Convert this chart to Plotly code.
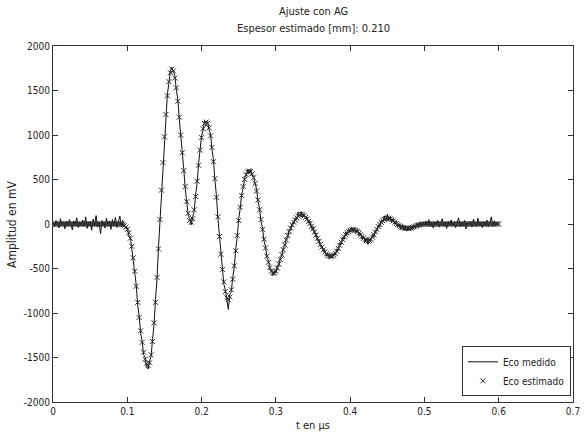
import plotly.graph_objects as go

# Sampling step of the traces (µs)
paso_us = 0.002

# Estimated echo (mV), one value every 0.002 µs from 0 to 0.600 µs (10 per row)
eco_estimado = [
    0, 0, 0, 0, 0, 0, 0, 0, 0, 0,                                   # 0.00
    0, 0, 0, 0, 0, 0, 0, 0, 0, 0,                                   # 0.02
    0, 0, 0, 0, 0, 0, 0, 0, 0, 0,                                   # 0.04
    0, 0, 0, 0, 0, 0, 0, 0, 0, 0,                                   # 0.06
    0, 0, 0, 0, 0, 0, -5, -10, -20, -35,                            # 0.08
    -60, -100, -160, -250, -380, -530, -700, -880, -1050, -1200,    # 0.10
    -1330, -1440, -1520, -1570, -1590, -1560, -1470, -1320, -1110, -880,  # 0.12
    -600, -280, 50, 380, 690, 980, 1230, 1440, 1600, 1700,          # 0.14
    1740, 1720, 1640, 1530, 1380, 1200, 1000, 800, 600, 420,        # 0.16
    250, 120, 40, 20, 60, 160, 310, 480, 660, 830,                  # 0.18
    970, 1070, 1130, 1145, 1130, 1080, 990, 860, 700, 510,          # 0.20
    300, 80, -140, -340, -510, -650, -760, -830, -850, -820,        # 0.22
    -740, -620, -470, -300, -130, 40, 190, 320, 420, 500,           # 0.24
    555, 585, 595, 590, 565, 520, 455, 370, 270, 160,               # 0.26
    50, -60, -170, -270, -360, -430, -490, -530, -550, -550,        # 0.28
    -530, -495, -450, -400, -345, -290, -235, -180, -130, -85,      # 0.30
    -45, -10, 20, 45, 70, 90, 105, 110, 105, 92,                    # 0.32
    75, 55, 30, 5, -25, -55, -90, -125, -160, -195,                 # 0.34
    -230, -260, -290, -315, -335, -350, -358, -362, -360, -350,     # 0.36
    -330, -305, -275, -240, -205, -175, -145, -120, -100, -85,      # 0.38
    -72, -65, -62, -65, -72, -85, -100, -120, -140, -160,           # 0.40
    -175, -186, -190, -185, -170, -148, -120, -90, -60, -30,        # 0.42
    -5, 18, 38, 52, 62, 66, 64, 57, 47, 34,                         # 0.44
    20, 6, -7, -19, -29, -37, -43, -47, -49, -50,                   # 0.46
    -48, -44, -38, -31, -24, -17, -11, -6, -3, -1,                  # 0.48
    0, 0, 0, 0, 0, 0, 0, 0, 0, 0,                                   # 0.50
    0, 0, 0, 0, 0, 0, 0, 0, 0, 0,                                   # 0.52
    0, 0, 0, 0, 0, 0, 0, 0, 0, 0,                                   # 0.54
    0, 0, 0, 0, 0, 0, 0, 0, 0, 0,                                   # 0.56
    0, 0, 0, 0, 0, 0, 0, 0, 0, 0,                                   # 0.58
    0,                                                              # 0.60
]

# Measured echo (mV), same time grid, noisy
eco_medido = [
    15, -30, 40, 5, -45, 60, -10, 25, -55, 30,                      # 0.00
    -20, 50, 10, -65, 35, -5, 70, -40, 20, -15,                     # 0.02
    45, -25, 80, -50, 15, 30, -70, 55, -10, 95,                     # 0.04
    -35, 20, -110, 40, 10, -45, 65, -20, 35, -60,                   # 0.06
    50, -15, 75, -40, 25, 90, -30, 40, -5, -50,                     # 0.08
    -40, -130, -140, -280, -360, -560, -680, -910, -1030, -1230,    # 0.10
    -1310, -1470, -1500, -1600, -1630, -1540, -1490, -1300, -1130, -850,  # 0.12
    -620, -260, 30, 400, 670, 1000, 1210, 1460, 1580, 1720,         # 0.14
    1760, 1700, 1670, 1510, 1400, 1180, 1020, 780, 620, 400,        # 0.16
    270, 100, 60, -10, 80, 140, 330, 460, 680, 810,                 # 0.18
    990, 1050, 1160, 1130, 1150, 1060, 1010, 840, 720, 490,         # 0.20
    320, 60, -120, -360, -490, -680, -740, -880, -960, -790,        # 0.22
    -760, -600, -490, -280, -150, 60, 170, 340, 400, 520,           # 0.24
    540, 610, 580, 620, 550, 530, 440, 390, 250, 180,               # 0.26
    30, -40, -190, -250, -380, -410, -510, -520, -580, -530,        # 0.28
    -550, -470, -470, -380, -360, -270, -250, -160, -150, -60,      # 0.30
    -70, 10, 0, 70, 50, 130, 90, 140, 80, 110,                      # 0.32
    60, 80, 10, 30, -50, -30, -110, -100, -190, -170,               # 0.34
    -250, -240, -310, -290, -360, -330, -390, -340, -380, -330,     # 0.36
    -350, -280, -300, -210, -230, -150, -170, -90, -120, -60,       # 0.38
    -90, -40, -80, -45, -100, -60, -130, -100, -170, -140,          # 0.40
    -200, -160, -230, -170, -190, -120, -150, -70, -80, -10,        # 0.42
    -30, 40, 20, 90, 40, 110, 50, 80, 20, 60,                       # 0.44
    0, 30, -30, 0, -60, -10, -70, -20, -80, -30,                    # 0.46
    -70, -20, -60, -10, -50, 10, -40, 20, -30, 15,                  # 0.48
    -20, 35, -10, 50, -30, 15, -45, 25, -5, 40,                     # 0.50
    -35, 10, 60, -25, 20, -50, 30, -15, 45, -20,                    # 0.52
    15, -40, 25, 70, -30, 5, -20, 40, -55, 20,                      # 0.54
    -10, 30, -35, 55, 0, -25, 65, -15, 20, -40,                     # 0.56
    25, -20, 45, -30, 10, 80, -25, 35, -10, 20,                     # 0.58
    0,                                                              # 0.60
]

t_us = [round(i * paso_us, 3) for i in range(len(eco_medido))]

x_ticks = [0, 0.1, 0.2, 0.3, 0.4, 0.5, 0.6, 0.7]
x_labels = ["0", "0.1", "0.2", "0.3", "0.4", "0.5", "0.6", "0.7"]
y_ticks = [-2000, -1500, -1000, -500, 0, 500, 1000, 1500, 2000]
y_labels = ["-2000", "-1500", "-1000", "-500", "0", "500", "1000", "1500", "2000"]

FONT = "DejaVu Sans Condensed, Liberation Sans Narrow, Arial Narrow, Liberation Sans, Arial, sans-serif"
AX = "#333333"
TXT = "#222222"

fig = go.Figure()
fig.add_trace(go.Scatter(
    x=t_us, y=eco_medido, mode="lines", name="Eco medido",
    line=dict(color="#111111", width=1),
))
fig.add_trace(go.Scatter(
    x=t_us, y=eco_estimado, mode="markers", name="Eco estimado",
    marker=dict(symbol="x-thin", size=5, color="#2a2a2a",
                line=dict(width=1, color="#2a2a2a")),
))

axis_common = dict(
    showline=True, linecolor=AX, linewidth=1, mirror="ticks",
    ticks="inside", ticklen=5, tickcolor=AX, tickwidth=1,
    showgrid=False, zeroline=False, automargin=False,
    tickfont=dict(family=FONT, size=10, color=TXT),
)

fig.update_layout(
    width=585, height=438,
    margin=dict(l=53, r=12, t=46, b=36),
    paper_bgcolor="white", plot_bgcolor="white",
    font=dict(family=FONT, size=11, color=TXT),
    showlegend=True,
    legend=dict(
        x=0.996, xanchor="right", y=0.016, yanchor="bottom",
        bgcolor="white", bordercolor=AX, borderwidth=1,
        font=dict(family=FONT, size=10, color=TXT),
        tracegroupgap=0, itemwidth=30,
    ),
    xaxis=dict(range=[0, 0.7], tickvals=x_ticks, ticktext=x_labels,
               **axis_common),
    yaxis=dict(range=[-2000, 2000], tickvals=y_ticks, ticktext=y_labels,
               **axis_common),
    annotations=[
        dict(text="Ajuste con AG",
             xref="paper", yref="paper", x=0.5, y=1, xanchor="center",
             yanchor="middle", yshift=35, showarrow=False,
             font=dict(family=FONT, size=11, color=TXT)),
        dict(text="Espesor estimado [mm]: 0.210",
             xref="paper", yref="paper", x=0.5, y=1, xanchor="center",
             yanchor="middle", yshift=18, showarrow=False,
             font=dict(family=FONT, size=11, color=TXT)),
        dict(text="t en µs", xref="paper", yref="paper", x=0.5, y=0,
             xanchor="center", yanchor="middle", yshift=-23, showarrow=False,
             font=dict(family=FONT, size=11, color=TXT)),
        dict(text="Amplitud en mV", xref="paper", yref="paper",
             x=0, y=0.5, xanchor="center", yanchor="middle", xshift=-41,
             textangle=-90, showarrow=False,
             font=dict(family=FONT, size=12, color=TXT)),
    ],
)

fig.write_html("out.html",
               config={"displayModeBar": False},
               post_script="document.body.style.margin='0';document.body.style.padding='0';")
